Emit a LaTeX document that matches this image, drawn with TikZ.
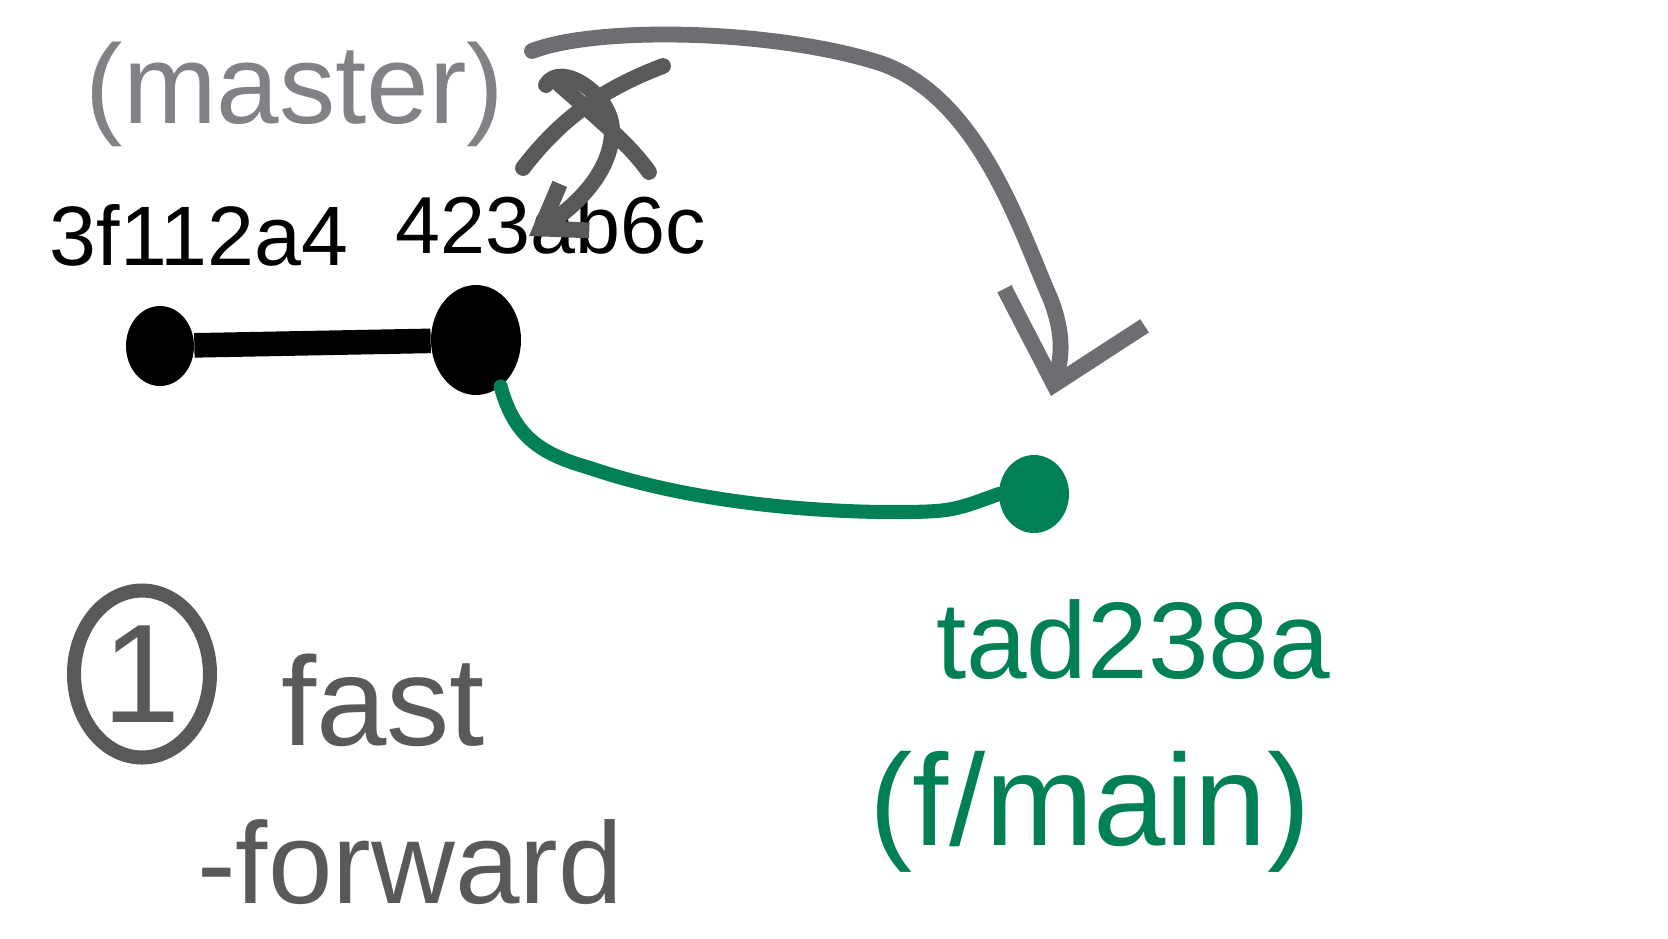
\documentclass[tikz,border=0pt]{standalone}
\usepackage{fontspec}
\setmainfont{Liberation Sans}
\usetikzlibrary{arrows.meta,shapes.geometric}
\definecolor{branchgray}{RGB}{128,130,133}
\definecolor{pengray}{RGB}{88,89,91}
\definecolor{featgreen}{RGB}{0,128,84}
\begin{document}
\begin{tikzpicture}[x=0.02cm,y=-0.02cm,
  commit/.style={shape=ellipse,fill,inner sep=0pt},
  pen/.style={line width=9pt,line cap=round,line join=round}]
\useasboundingbox (0,0) rectangle (1668,938);

% points
\path (160,346)  node[commit,black,minimum width=1.36cm,minimum height=1.6cm] (Base) {};
\path (476,340)  node[commit,black,minimum width=1.8cm,minimum height=2.2cm] (Old) {};
\path (1034,494) node[commit,featgreen,minimum width=1.4cm,minimum height=1.56cm] (New) {};

% labels
\tikzstyle{every node}=[inner sep=0pt];
\path (295,94)   node[branchgray,font=\fontsize{64}{64}\selectfont] (Master) {(master)};
\path (199,235)  node[black,font=\fontsize{48}{48}\selectfont] (BaseHash) {3f112a4};
\path (551,225)  node[black,font=\fontsize{46}{46}\selectfont] (OldHash) {423ab6c};
\path (1133,640) node[featgreen,font=\fontsize{62}{62}\selectfont] (NewHash) {tad238a};
\path (1090,812) node[featgreen,font=\fontsize{74}{74}\selectfont] (Feature) {(f/main)};
\path (142,674)  node[pengray,draw,line width=8pt,shape=ellipse,minimum width=2.72cm,minimum height=3.34cm,font=\fontsize{80}{80}\selectfont] (Step) {1};
\path (383,700)  node[pengray,font=\fontsize{72}{72}\selectfont] (Fast) {fast};
\path (410,862)  node[pengray,font=\fontsize{66}{66}\selectfont] (Forward) {-forward};

% edges
\coordinate (OldTip) at (529,236);
\coordinate (NewTip) at (1051,396);

\draw[black,line width=14pt] (Base) -- (Old);
\draw[featgreen,line width=8pt,line cap=round]
  (Old.-62) .. controls (515,440) and (545,455) .. (590,468)
  .. controls (660,492) and (760,510) .. (880,512)
  .. controls (950,512) .. (New.west);
\draw[pen,branchgray!85!black,-{Straight Barb[length=1.6cm,width=2.9cm]}]
  (532,51) .. controls (600,25) and (780,30) .. (883,64)
  .. controls (980,100) and (1020,230) .. (1051,300)
  .. controls (1066,340) and (1060,362) .. (NewTip);
\draw[pen,pengray,-{Straight Barb[length=0.8cm,width=1.1cm]}]
  (546,85) .. controls (560,60) and (612,95) .. (612,130)
  .. controls (612,175) and (570,210) .. (OldTip);

% crossed out
\draw[pen,pengray] (663,66) .. controls (600,90) and (560,120) .. (523,168);
\draw[pen,pengray] (560,85) .. controls (600,120) and (630,145) .. (649,172);

\end{tikzpicture}
\end{document}
